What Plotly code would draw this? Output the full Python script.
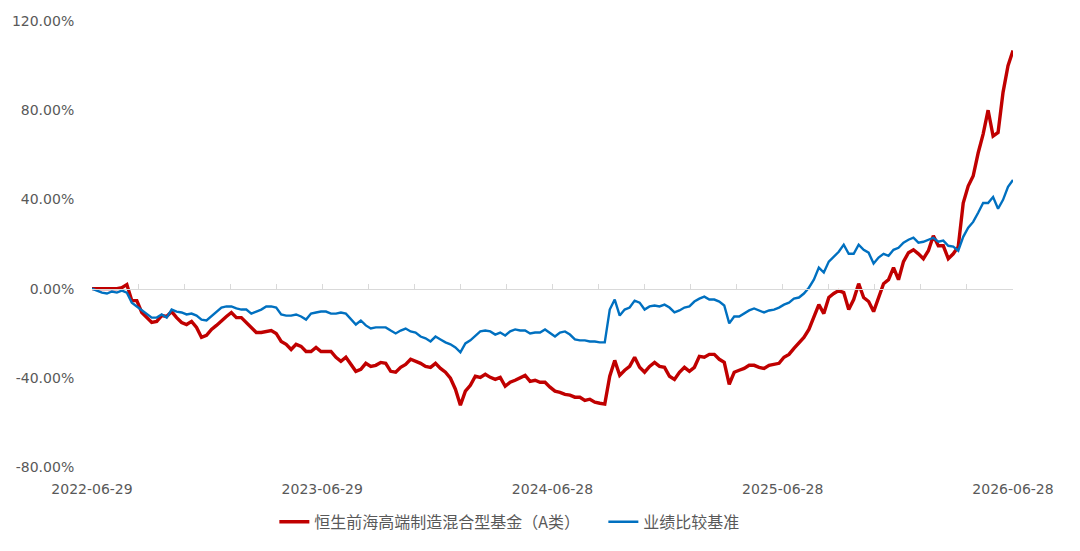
import pandas as pd
import plotly.graph_objects as go

start_date = "2022-06-29"
end_date = "2026-06-28"
tick_dates = ["2022-06-29", "2023-06-29", "2024-06-28", "2025-06-28", "2026-06-28"]
tick_labels = ["2022-06-29", "2023-06-29", "2024-06-28", "2025-06-28", "2026-06-28"]
y_ticks = [-80, -40, 0, 40, 80, 120]
y_labels = ["-80.00%", "-40.00%", "0.00%", "40.00%", "80.00%", "120.00%"]

fund_name = "恒生前海高端制造混合型基金（A类）"
bench_name = "业绩比较基准"

fund = [
    0, 0, 0, 0, 0, 0, 0.4, 1.8, -5.4, -5.4,
    -10.7, -13.0, -15.2, -14.7, -12.1, -12.5, -10.3, -13.0, -15.2, -16.1,
    -14.7, -17.4, -21.9, -21.0, -18.3, -16.5, -14.3, -12.5, -10.7, -13.0,
    -13.0, -15.2, -17.4, -19.7, -19.7, -19.2, -18.8, -20.1, -23.7, -25.0,
    -27.3, -25.0, -25.9, -28.2, -28.2, -26.4, -28.2, -28.2, -28.2, -30.8,
    -32.6, -30.8, -34.0, -37.1, -36.2, -33.5, -34.9, -34.4, -33.1, -33.5,
    -37.1, -37.5, -35.3, -34.0, -31.7, -32.6, -33.5, -34.9, -35.3, -33.5,
    -35.8, -37.5, -40.2, -45.1, -52.3, -46.0, -43.4, -39.3, -39.8, -38.4,
    -39.8, -40.7, -39.8, -43.8, -42.0, -41.1, -40.2, -38.9, -41.6, -41.1,
    -42.0, -42.0, -44.2, -46.0, -46.5, -47.4, -47.8, -48.7, -48.7, -50.1,
    -49.6, -50.9, -51.4, -51.8, -39.3, -32.2, -38.9, -36.6, -34.9, -30.8,
    -35.3, -37.5, -34.9, -33.1, -34.9, -35.3, -39.3, -40.7, -37.5, -35.3,
    -37.1, -35.3, -30.4, -30.8, -29.5, -29.5, -31.7, -33.1, -42.9, -37.5,
    -36.6, -35.8, -34.4, -34.4, -35.3, -35.8, -34.4, -34.0, -33.5, -30.8,
    -29.5, -26.8, -24.1, -21.9, -18.3, -12.5, -7.2, -11.2, -4.0, -2.2,
    -0.9, -1.8, -9.4, -4.9, 2.2, -4.0, -5.8, -10.3, -3.6, 2.2,
    4.0, 9.4, 4.0, 12.1, 16.1, 17.4, 15.6, 13.4, 17.0, 23.7,
    19.2, 19.2, 13.4, 15.6, 18.8, 38.4, 46.0, 50.5, 60.8, 69.3,
    80.0, 68.4, 70.0, 88.0, 100.0, 106.8,
]

bench = [
    0, -0.9, -1.8, -2.2, -1.3, -1.8, -0.9, -1.8, -6.3, -8.0,
    -9.8, -11.2, -13.0, -13.0, -11.6, -13.0, -9.4, -10.3, -10.7, -11.6,
    -11.2, -12.1, -13.9, -14.3, -12.5, -10.3, -8.5, -8.0, -8.0, -8.9,
    -9.4, -9.4, -11.2, -10.3, -9.4, -8.0, -8.0, -8.5, -11.6, -12.1,
    -12.1, -11.6, -12.5, -13.9, -11.2, -10.7, -10.3, -10.3, -11.2, -11.2,
    -10.7, -11.2, -13.9, -16.1, -14.3, -16.5, -17.9, -17.4, -17.4, -17.4,
    -18.8, -20.1, -18.8, -17.9, -19.2, -19.7, -21.5, -22.3, -23.7, -21.5,
    -22.8, -24.1, -25.0, -26.4, -28.6, -24.6, -23.2, -21.0, -19.2, -18.8,
    -19.2, -20.6, -19.7, -21.0, -19.2, -18.3, -18.8, -18.8, -20.1, -19.7,
    -19.7, -18.3, -20.1, -21.5, -19.7, -19.2, -20.6, -22.8, -23.2, -23.2,
    -23.7, -23.7, -24.1, -24.1, -9.4, -4.9, -12.1, -9.4, -8.5, -5.4,
    -6.3, -9.4, -8.0, -7.6, -8.0, -7.2, -8.5, -10.7, -9.8, -8.5,
    -8.0, -5.8, -4.5, -3.6, -4.9, -4.9, -5.8, -7.6, -15.6, -12.5,
    -12.5, -11.2, -9.8, -8.9, -9.8, -10.7, -9.8, -9.4, -8.5, -7.2,
    -6.3, -4.5, -4.0, -2.2, 0.4, 4.0, 9.4, 7.2, 12.1, 14.3,
    16.5, 19.7, 15.6, 15.6, 19.7, 17.4, 16.1, 11.2, 13.9, 15.6,
    14.7, 17.4, 18.3, 20.6, 21.9, 22.8, 20.6, 21.0, 21.9, 22.8,
    21.0, 21.5, 19.2, 18.8, 17.0, 23.2, 27.3, 29.9, 34.0, 38.4,
    38.4, 41.1, 35.8, 39.8, 45.6, 48.7,
]

dates = pd.date_range(start_date, end_date, periods=len(fund))

text_color = "#595959"
tick_font = "DejaVu Sans, Noto Sans, sans-serif"
legend_font = "Noto Sans CJK SC, Noto Sans, sans-serif"

fig = go.Figure()
fig.add_trace(go.Scatter(
    x=dates, y=bench, mode="lines", name=bench_name, xaxis="x2",
    line=dict(color="#0070c0", width=2.4),
))
fig.add_trace(go.Scatter(
    x=dates, y=fund, mode="lines", name=fund_name,
    line=dict(color="#c00000", width=3.4),
))

day_ms = 86400000
fig.update_layout(
    width=1080, height=551,
    margin=dict(l=90, r=67, t=21, b=83),
    paper_bgcolor="white", plot_bgcolor="white",
    font=dict(family=tick_font, color=text_color, size=14),
    showlegend=True,
    legend=dict(
        orientation="h", x=0.198, xanchor="left", y=-0.123, yanchor="middle",
        traceorder="reversed", entrywidth=284,
        font=dict(family=legend_font, size=16, color=text_color),
    ),
    xaxis=dict(
        type="date", range=[start_date, end_date],
        tickmode="array", tickvals=tick_dates, ticktext=tick_labels,
        showgrid=False, zeroline=False, showline=False,
        ticks="outside", ticklen=9, tickcolor="rgba(0,0,0,0)",
        tickfont=dict(size=14, color=text_color),
    ),
    xaxis2=dict(
        type="date", range=[start_date, end_date], overlaying="x",
        anchor="free", position=0.4, side="bottom",
        showline=True, linecolor="#d9d9d9", linewidth=1,
        ticks="inside", ticklen=5, tickcolor="#d9d9d9",
        tick0=start_date, dtick=73 * day_ms,
        showticklabels=False, showgrid=False, zeroline=False,
    ),
    yaxis=dict(
        range=[-80, 120], tickmode="array", tickvals=y_ticks, ticktext=y_labels,
        showgrid=False, zeroline=False, showline=False,
        ticks="outside", ticklen=14, tickcolor="rgba(0,0,0,0)",
        tickfont=dict(size=14, color=text_color),
    ),
)

fig.write_html("out.html")
